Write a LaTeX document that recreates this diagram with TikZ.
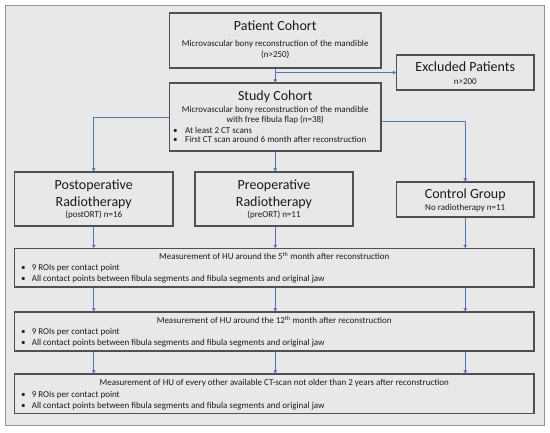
\documentclass[tikz,border=0pt]{standalone}
\usepackage{fontspec}
\setmainfont{Carlito}
\usetikzlibrary{arrows.meta}
\definecolor{bg}{HTML}{E8E8E8}
\definecolor{framec}{HTML}{8A94A6}
\definecolor{boxline}{HTML}{505050}
\definecolor{link}{HTML}{4A76C6}
\definecolor{txt}{HTML}{1A1A1A}
\begin{document}
\begin{tikzpicture}[x=1pt,y=-1pt,
  box/.style={draw=boxline, line width=1.1pt, fill=bg, inner sep=0pt},
  ttl/.style={anchor=base, inner sep=0pt, text=txt, font=\fontsize{14}{16}\selectfont},
  sm/.style={anchor=base, inner sep=0pt, text=txt, font=\fontsize{9}{11}\selectfont},
  sml/.style={sm, anchor=base west},
  conn/.style={draw=link, line width=0.6pt},
  arr/.style={conn, -{Triangle[width=3.6pt,length=3pt]}}
]
\useasboundingbox (0,0) rectangle (550,433);
\node[draw=framec, line width=1pt, fill=bg, minimum width=539pt, minimum height=420pt, inner sep=0pt] (frame) at (274.5,216) {};

% boxes
\node[box, minimum width=211.5pt, minimum height=55pt] (patient) at (275.25,40.5) {};
\node[box, minimum width=137.5pt, minimum height=35pt] (excluded) at (465.25,72.5) {};
\node[box, minimum width=211.5pt, minimum height=68pt] (study) at (275.25,117) {};
\node[box, minimum width=158.5pt, minimum height=54pt] (postop) at (93.75,199) {};
\node[box, minimum width=158pt, minimum height=54pt] (preop) at (274,199) {};
\node[box, minimum width=137.5pt, minimum height=35pt] (control) at (465.25,199.5) {};
\node[box, minimum width=519.5pt, minimum height=38.5pt] (meas1) at (274.25,267.75) {};
\node[box, minimum width=519.5pt, minimum height=39pt] (meas2) at (274.25,331.5) {};
\node[box, minimum width=519.5pt, minimum height=39.5pt] (meas3) at (274.25,393.75) {};

% texts
\node[ttl] (tPatient) at (275.25,31) {Patient Cohort};
\node[sm] (tPatient1) at (275.25,47) {Microvascular bony reconstruction of the mandible};
\node[sm] (tPatient2) at (275.25,57.5) {(n>250)};

\node[ttl] (tExcl) at (465.25,72) {Excluded Patients};
\node[sm] (tExcl1) at (465.25,84.5) {n>200};

\node[ttl] (tStudy) at (275.25,101) {Study Cohort};
\node[sm] (tStudy1) at (275.25,113) {Microvascular bony reconstruction of the mandible};
\node[sm] (tStudy2) at (275.25,123) {with free fibula flap (n=38)};
\node[sml] (tStudy3) at (173,133.5) {\makebox[12pt][l]{•}At least 2 CT scans};
\node[sml] (tStudy4) at (173,143) {\makebox[12pt][l]{•}First CT scan around 6 month after reconstruction};

\node[ttl] (tPost1) at (93.75,190) {Postoperative};
\node[ttl] (tPost2) at (93.75,207) {Radiotherapy};
\node[sm] (tPost3) at (93.75,218) {(postORT) n=16};

\node[ttl] (tPre1) at (274,190) {Preoperative};
\node[ttl] (tPre2) at (274,207) {Radiotherapy};
\node[sm] (tPre3) at (274,218) {(preORT) n=11};

\node[ttl] (tCtrl) at (465.25,199) {Control Group};
\node[sm] (tCtrl1) at (465.25,211) {No radiotherapy n=11};

\node[sm] (tM1) at (274.25,260) {Measurement of HU around the 5\textsuperscript{th} month after reconstruction};
\node[sml] (tM1a) at (21,271) {\makebox[10.6pt][l]{•}9 ROIs per contact point};
\node[sml] (tM1b) at (21,282) {\makebox[10.6pt][l]{•}All contact points between fibula segments and fibula segments and original jaw};

\node[sm] (tM2) at (274.25,324) {Measurement of HU around the 12\textsuperscript{th} month after reconstruction};
\node[sml] (tM2a) at (21,335) {\makebox[10.6pt][l]{•}9 ROIs per contact point};
\node[sml] (tM2b) at (21,346) {\makebox[10.6pt][l]{•}All contact points between fibula segments and fibula segments and original jaw};

\node[sm] (tM3) at (274.25,386) {Measurement of HU of every other available CT-scan not older than 2 years after reconstruction};
\node[sml] (tM3a) at (21,397.5) {\makebox[10.6pt][l]{•}9 ROIs per contact point};
\node[sml] (tM3b) at (21,408.5) {\makebox[10.6pt][l]{•}All contact points between fibula segments and fibula segments and original jaw};

% connectors
\coordinate (jx) at (patient.south |- excluded.west);
\draw[arr] (patient.south) -- (study.north);
\draw[arr] (jx) -- (excluded.west);
\draw[arr] (study.west) -| (postop.north);
\draw[arr] ([yshift=-4pt]study.east) -| (control.north);
\draw[arr] (study.south) -- (preop.north -| study.south);

\coordinate (cL) at (postop.south);
\coordinate (cM) at (study.south);
\coordinate (cR) at (control.south);
\draw[arr] (cL) -- (meas1.north -| cL);
\draw[arr] (preop.south -| cM) -- (meas1.north -| cM);
\draw[arr] (cR) -- (meas1.north -| cR);
\foreach \c in {cL,cM,cR}{
  \draw[arr] (meas1.south -| \c) -- (meas2.north -| \c);
  \draw[arr] (meas2.south -| \c) -- (meas3.north -| \c);
}
\end{tikzpicture}
\end{document}
